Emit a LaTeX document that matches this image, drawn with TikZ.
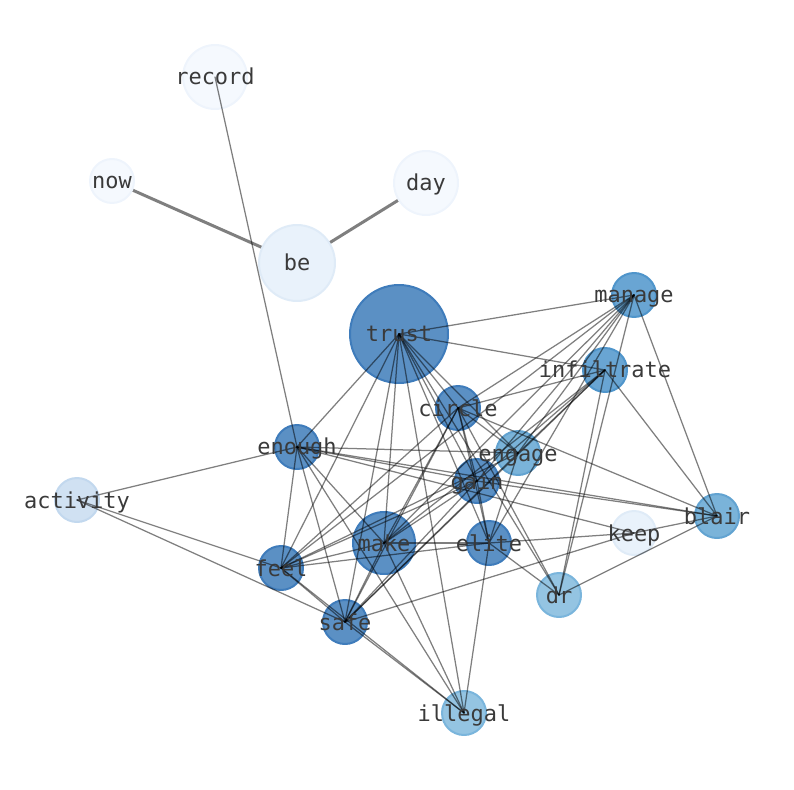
\documentclass[tikz,border=0pt]{standalone}
\usepackage{fontspec}
\usepackage{tikz}
\setmonofont{DejaVu Sans Mono}
\pgfdeclarelayer{bg}
\pgfsetlayers{bg,main}
\definecolor{dkfill}{HTML}{5B90C4}
\definecolor{dkline}{HTML}{3F7CBB}
\definecolor{mdfill}{HTML}{69A5D3}
\definecolor{mdline}{HTML}{4F95CB}
\definecolor{ltfill}{HTML}{7AB3D9}
\definecolor{ltline}{HTML}{62A3D1}
\definecolor{skyfill}{HTML}{94C4E2}
\definecolor{skyline}{HTML}{7AB5DC}
\definecolor{icefill}{HTML}{D0E1F2}
\definecolor{iceline}{HTML}{C2D8EE}
\definecolor{palefill}{HTML}{E9F2FB}
\definecolor{paleline}{HTML}{DFEBF7}
\definecolor{snowfill}{HTML}{F5F9FE}
\definecolor{snowline}{HTML}{EEF4FC}
\definecolor{txtgray}{HTML}{3A3A3A}

\begin{document}
\begin{tikzpicture}[line cap=round,line join=round,x=0.02cm,y=-0.02cm,
    vertex/.style={circle,inner sep=0pt,minimum size=0.88cm,line width=0.04cm},
    dk/.style={vertex,fill=dkfill,draw=dkline},
    md/.style={vertex,fill=mdfill,draw=mdline},
    lt/.style={vertex,fill=ltfill,draw=ltline},
    sky/.style={vertex,fill=skyfill,draw=skyline},
    ice/.style={vertex,fill=icefill,draw=iceline},
    pale/.style={vertex,fill=palefill,draw=paleline},
    snow/.style={vertex,fill=snowfill,draw=snowline},
    edge/.style={line width=0.025cm,draw=black,draw opacity=0.5},
    heavy/.style={line width=0.06cm,draw=black,draw opacity=0.5},
    lbl/.style={text=txtgray,inner sep=0pt,anchor=base,yshift=-0.16cm,font=\ttfamily\fontsize{12.5}{15}\selectfont}]
                        \useasboundingbox (0,0) rectangle (794,790);
                        % words
                        \node[snow,minimum size=1.28cm] (record) at (215,77) {};
                        \node[snow] (now) at (112,181) {};
                        \node[snow,minimum size=1.28cm] (day) at (426,183) {};
                        \node[pale,minimum size=1.52cm] (be) at (297,263) {};
                        \node[dk,minimum size=1.96cm] (trust) at (399,334) {};
                        \node[md] (manage) at (634,295) {};
                        \node[md] (infiltrate) at (605,370) {};
                        \node[dk] (circle) at (458,408) {};
                        \node[dk] (enough) at (297,447) {};
                        \node[lt] (engage) at (518,453) {};
                        \node[dk] (gain) at (477,481) {};
                        \node[ice] (activity) at (77,500) {};
                        \node[lt] (blair) at (717,516) {};
                        \node[pale] (keep) at (634,533) {};
                        \node[dk,minimum size=1.24cm] (make) at (384,543) {};
                        \node[dk] (elite) at (489,543) {};
                        \node[dk] (feel) at (281,568) {};
                        \node[sky] (dr) at (559,595) {};
                        \node[dk] (safe) at (345,622) {};
                        \node[sky] (illegal) at (464,713) {};
                        % heavy links under the words
                        \begin{pgfonlayer}{bg}
                        \draw[heavy] (now.center) -- (be.center);
                        \draw[heavy] (day.center) -- (be.center);
                        \end{pgfonlayer}
                        % links
                        \draw[edge] (record.center) -- (enough.center);
                        \foreach \b in {manage,infiltrate,enough,feel,safe,make,circle,gain,elite,engage,illegal,dr}
                            \draw[edge] (trust.center) -- (\b.center);
                        \foreach \b in {circle,engage,gain,elite,make,feel,dr,blair}
                            \draw[edge] (manage.center) -- (\b.center);
                        \foreach \b in {circle,engage,gain,make,safe,dr,blair}
                            \draw[edge] (infiltrate.center) -- (\b.center);
                        \foreach \b in {gain,elite,make,feel,safe,engage,dr,blair}
                            \draw[edge] (circle.center) -- (\b.center);
                        \foreach \b in {engage,gain,blair,keep,make,feel,safe,illegal,activity}
                            \draw[edge] (enough.center) -- (\b.center);
                        \foreach \b in {feel,safe,elite}
                            \draw[edge] (engage.center) -- (\b.center);
                        \foreach \b in {make,feel,safe,elite,blair}
                            \draw[edge] (gain.center) -- (\b.center);
                        \foreach \b in {feel,safe}
                            \draw[edge] (activity.center) -- (\b.center);
                        \foreach \b in {feel,elite,safe,illegal}
                            \draw[edge] (make.center) -- (\b.center);
                        \foreach \b in {keep,dr,illegal,feel}
                            \draw[edge] (elite.center) -- (\b.center);
                        \draw[edge] (feel.center) -- (safe.center);
                        \draw[edge] (feel.center) -- (illegal.center);
                        \draw[edge] (safe.center) -- (illegal.center);
                        \draw[edge] (safe.center) -- (keep.center);
                        \draw[edge] (dr.center) -- (blair.center);
                        \draw[edge] (keep.center) -- (blair.center);
                        % labels
                        \foreach \w in {record,now,day,be,trust,manage,infiltrate,circle,enough,engage,gain,activity,blair,keep,make,elite,feel,dr,safe,illegal}
                            \node[lbl] (\w-txt) at (\w.center) {\w};
\end{tikzpicture}
\end{document}
